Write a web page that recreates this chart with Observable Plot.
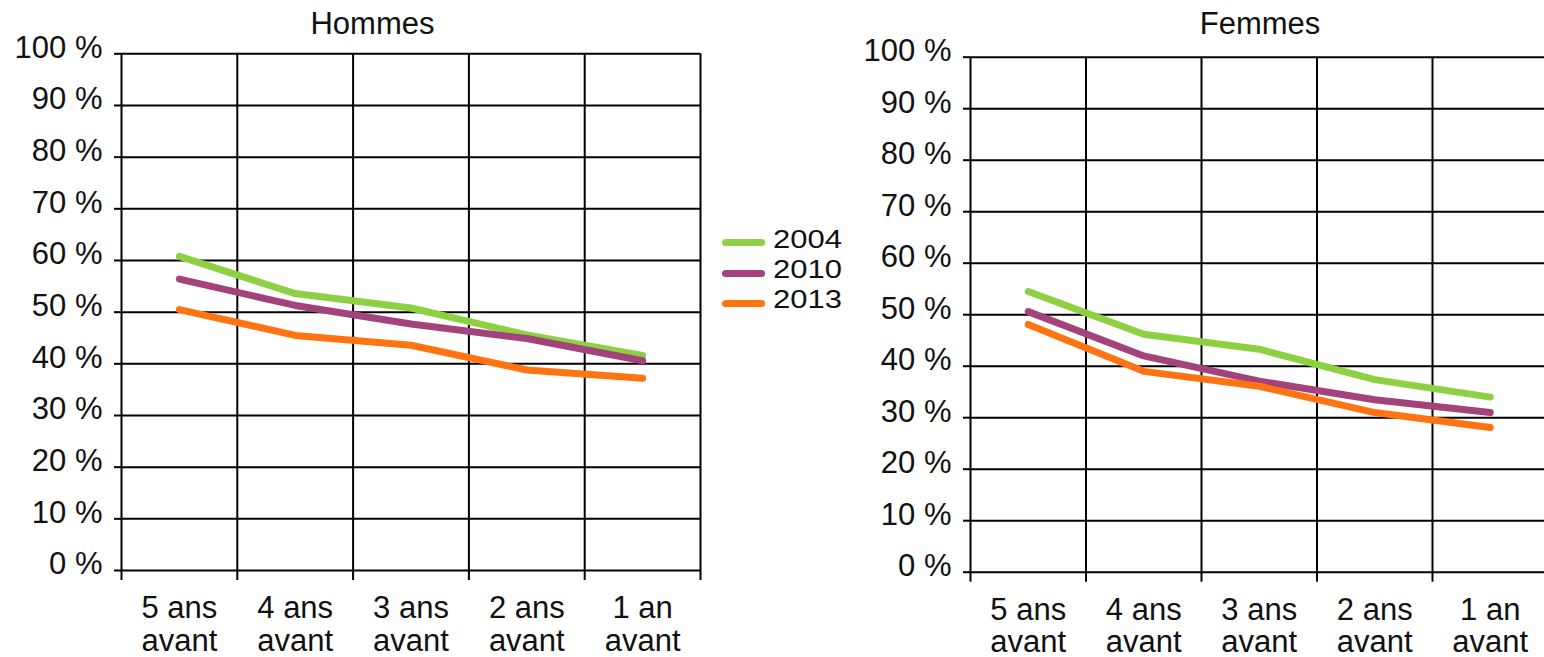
<!DOCTYPE html>
<html>
<head>
<meta charset="utf-8">
<script src="https://cdn.jsdelivr.net/npm/d3@7"></script>
<script src="https://cdn.jsdelivr.net/npm/@observablehq/plot@0.6"></script>
<style>
  html, body { margin: 0; padding: 0; background: #fff; overflow: hidden; }
  #root { position: relative; width: 1544px; height: 657px; font-family: "Liberation Sans", Arial, sans-serif; color: #111; }
  .abs { position: absolute; }
  .title { font-size: 31px; line-height: 30px; width: 300px; text-align: center; white-space: nowrap; }
  .legtxt { font-size: 31px; line-height: 30px; white-space: nowrap; transform: scale(1, 0.86); transform-origin: 0 25.8px; }
  .sw { width: 43px; height: 7px; border-radius: 3.5px; }
  svg { max-width: none !important; }
</style>
</head>
<body>
<div id="root"></div>
<script>
// ---- Data ----
const categories = ["5 ans\navant", "4 ans\navant", "3 ans\navant", "2 ans\navant", "1 an\navant"];
const years = ["2004", "2010", "2013"];
const colors = ["#8dd042", "#a4427c", "#ff7313"];
const yTicks = [0, 10, 20, 30, 40, 50, 60, 70, 80, 90, 100];

const hommes2004 = [60.8, 53.6, 50.8, 45.6, 41.6];
const hommes2010 = [56.4, 51.3, 47.7, 44.9, 40.6];
const hommes2013 = [50.5, 45.5, 43.6, 38.8, 37.2];

const femmes2004 = [54.5, 46.2, 43.3, 37.4, 34.0];
const femmes2010 = [50.6, 42.0, 37.1, 33.5, 31.0];
const femmes2013 = [48.1, 39.0, 36.1, 31.0, 28.1];

const panels = [
  {title: "Hommes", series: [hommes2004, hommes2010, hommes2013]},
  {title: "Femmes", series: [femmes2004, femmes2010, femmes2013]}
];

// ---- Build ----
function toRows(series) {
  const rows = [];
  series.forEach((vals, s) => vals.forEach((v, i) => rows.push({year: years[s], pos: i + 0.5, value: v})));
  return rows;
}
const xBounds = d3.range(categories.length + 1);
const xCenters = categories.map((_, i) => i + 0.5);

function makePanel(rows, layout) {
  return Plot.plot({
    width: layout.width,
    height: 657,
    marginLeft: layout.marginLeft,
    marginRight: layout.marginRight,
    marginTop: layout.marginTop,
    marginBottom: layout.marginBottom,
    x: {domain: [0, categories.length], axis: null, label: null},
    y: {domain: [0, 100], axis: null, label: null},
    color: {domain: years, range: colors},
    style: {fontFamily: "Liberation Sans, Arial, sans-serif", fontSize: "31px", color: "#111", background: "transparent", overflow: "visible", maxWidth: "none"},
    marks: [
      Plot.gridY(yTicks, {stroke: "#000", strokeOpacity: 1, strokeWidth: 2}),
      Plot.gridX(xBounds, {stroke: "#000", strokeOpacity: 1, strokeWidth: 2}),
      Plot.axisY(yTicks, {tickSize: 7, fill: "none", stroke: "#000", strokeWidth: 2, label: null}),
      Plot.axisY(yTicks, {tickSize: 0, tickPadding: 19, dy: -6, tickFormat: d => `${d} %`, fill: "#111", label: null}),
      Plot.axisX(xBounds, {tickSize: 10, fill: "none", stroke: "#000", strokeWidth: 2, label: null}),
      Plot.axisX(xCenters, {tickSize: 0, tickPadding: 25, lineHeight: 1.04, tickFormat: i => categories[Math.floor(i)], fill: "#111", label: null}),
      Plot.line(rows, {x: "pos", y: "value", z: "year", stroke: "year", strokeWidth: 7, strokeLinecap: "round", strokeLinejoin: "round"})
    ]
  });
}

const root = document.getElementById("root");
const layouts = [
  {left: 0, width: 760, marginLeft: 121, marginRight: 60, marginTop: 53.3, marginBottom: 87, titleLeft: 222.5},
  {left: 840, width: 710, marginLeft: 130, marginRight: 2.5, marginTop: 56.7, marginBottom: 85.3, titleLeft: 1110}
];

panels.forEach((p, k) => {
  const L = layouts[k];
  const wrap = document.createElement("div");
  wrap.className = "abs";
  wrap.style.left = L.left + "px";
  wrap.style.top = "0px";
  wrap.style.width = L.width + "px";
  wrap.style.height = "657px";
  wrap.appendChild(makePanel(toRows(p.series), L));
  root.appendChild(wrap);

  const t = document.createElement("div");
  t.className = "abs title";
  t.style.left = L.titleLeft + "px";
  t.style.top = "9px";
  t.textContent = p.title;
  root.appendChild(t);
});

// Legend
years.forEach((yr, i) => {
  const sw = document.createElement("div");
  sw.className = "abs sw";
  sw.style.left = "722px";
  sw.style.top = (239.2 + 30.3 * i) + "px";
  sw.style.background = colors[i];
  root.appendChild(sw);
  const tx = document.createElement("div");
  tx.className = "abs legtxt";
  tx.style.left = "773px";
  tx.style.top = (222.5 + 30.3 * i) + "px";
  tx.textContent = yr;
  root.appendChild(tx);
});
</script>
</body>
</html>
